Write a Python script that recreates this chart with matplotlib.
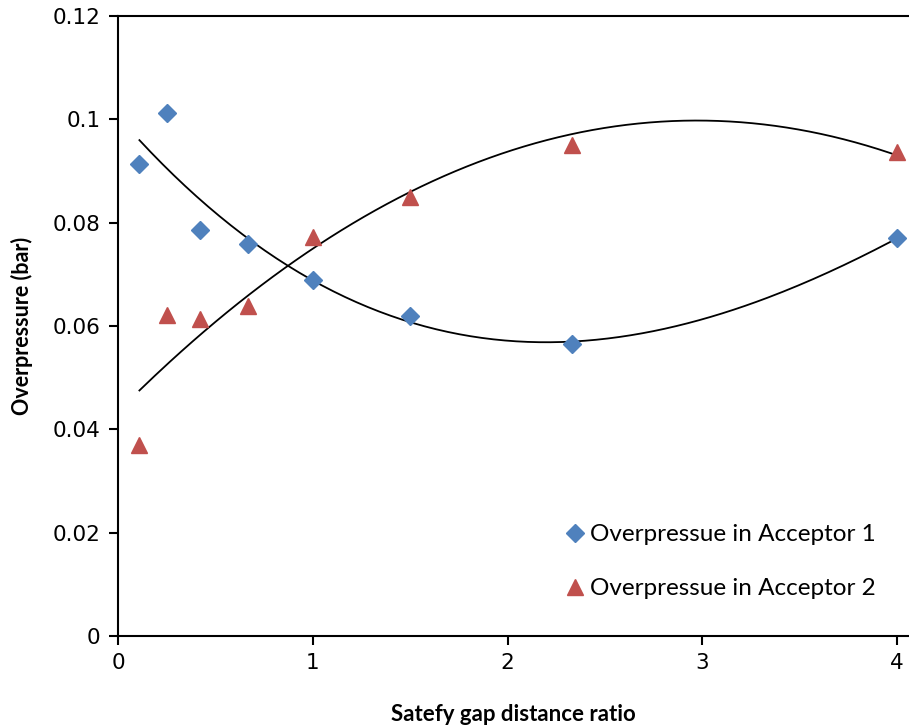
import numpy as np
import matplotlib
matplotlib.use("Agg")
import matplotlib.pyplot as plt

# Data
gap_ratio = [0.11, 0.25, 0.42, 0.67, 1.0, 1.5, 2.33, 4.0]
acceptor1 = [0.0913, 0.1012, 0.0786, 0.0759, 0.0689, 0.0620, 0.0565, 0.0770]
acceptor2 = [0.0369, 0.0621, 0.0613, 0.0639, 0.0773, 0.0850, 0.0951, 0.0937]

xticks = [0, 1, 2, 3, 4]
yticks = [0, 0.02, 0.04, 0.06, 0.08, 0.1, 0.12]
ytick_labels = ["0", "0.02", "0.04", "0.06", "0.08", "0.1", "0.12"]

blue = "#4F81BD"
red = "#C0504D"

plt.rcParams["font.family"] = ["Lato", "DejaVu Sans"]

fig = plt.figure(figsize=(9.09, 7.28), dpi=100)
ax = fig.add_axes([118 / 909, 1 - 636 / 728, 1 - 118 / 909, (636 - 16) / 728])

ax.plot(gap_ratio, acceptor1, linestyle="none", marker="D", markersize=9.5,
        color=blue, label="Overpressue in Acceptor 1", zorder=3)
ax.plot(gap_ratio, acceptor2, linestyle="none", marker="^", markersize=12,
        color=red, label="Overpressue in Acceptor 2", zorder=3)

# polynomial trend lines
xs = np.linspace(gap_ratio[0], gap_ratio[-1], 200)
for ys, order in ((acceptor1, 3), (acceptor2, 2)):
    coef = np.polyfit(gap_ratio, ys, order)
    ax.plot(xs, np.polyval(coef, xs), color="black", linewidth=1.3, zorder=2)

ax.set_xlim(0, (909 - 118) / 194.75)
ax.set_ylim(0, 0.12)
ax.set_xticks(xticks)
ax.set_xticklabels([str(t) for t in xticks], family="DejaVu Sans")
ax.set_yticks(yticks)
ax.set_yticklabels(ytick_labels, family="DejaVu Sans")

ax.spines["right"].set_visible(False)
for s in ("left", "bottom", "top"):
    ax.spines[s].set_linewidth(1.5)
ax.tick_params(direction="out", length=6.5, width=1.5, labelsize=15.5, pad=6)

ax.set_xlabel("Satefy gap distance ratio", fontsize=16, fontweight="bold", labelpad=22)
ax.set_ylabel("Overpressure (bar)", fontsize=15.5, fontweight="bold", labelpad=14)

ax.legend(loc="upper left", bbox_to_anchor=(0.55, 0.20), borderpad=0, frameon=False,
          fontsize=17.5, handlelength=0.8, handletextpad=0.2, labelspacing=1.37)

fig.savefig("out.png", dpi=100)
